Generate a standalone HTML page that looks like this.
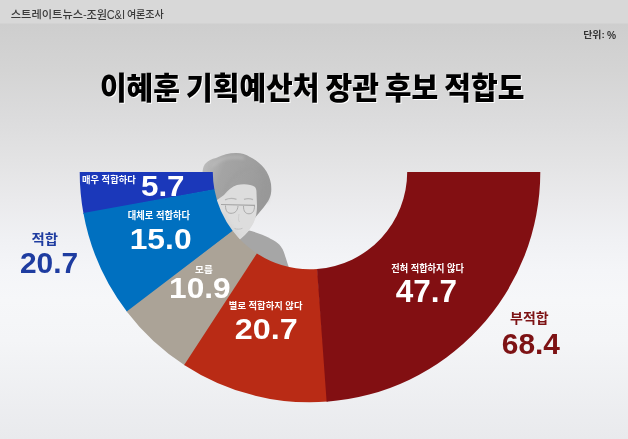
<!DOCTYPE html>
<html lang="ko">
<head>
<meta charset="utf-8">
<title>이혜훈 기획예산처 장관 후보 적합도</title>
<style>
html,body{margin:0;padding:0;background:#e9e9eb;}
body{width:628px;height:439px;overflow:hidden;position:relative;font-family:"Liberation Sans","Noto Sans CJK KR",sans-serif;}
svg{display:block;position:absolute;left:0;top:0;}
text{font-family:"Liberation Sans","Noto Sans CJK KR",sans-serif;white-space:pre;}
.title{filter:drop-shadow(1.5px 1.5px 0.2px #fff);word-spacing:-2.2px;}
</style>
</head>
<body>
<svg width="628" height="439" viewBox="0 0 628 439">
<defs>
<linearGradient id="bg" gradientUnits="userSpaceOnUse" x1="0" y1="24" x2="0" y2="439">
<stop offset="0.000" stop-color="#cecece"/>
<stop offset="0.111" stop-color="#d4d4d4"/>
<stop offset="0.231" stop-color="#dcdcdd"/>
<stop offset="0.328" stop-color="#e3e3e4"/>
<stop offset="0.424" stop-color="#eaeaec"/>
<stop offset="0.520" stop-color="#f0f1f4"/>
<stop offset="0.593" stop-color="#f4f5f8"/>
<stop offset="0.665" stop-color="#f6f7f9"/>
<stop offset="0.761" stop-color="#f4f5f7"/>
<stop offset="1.000" stop-color="#e9eaed"/>
</linearGradient>
<filter id="b1" x="-20%" y="-20%" width="140%" height="140%"><feGaussianBlur stdDeviation="0.7"/></filter>
<filter id="b2" x="-20%" y="-20%" width="140%" height="140%"><feGaussianBlur stdDeviation="1.6"/></filter>
<linearGradient id="hair" gradientUnits="userSpaceOnUse" x1="204" y1="160" x2="270" y2="185">
<stop offset="0" stop-color="#bebebe"/>
<stop offset="0.3" stop-color="#a4a4a4"/>
<stop offset="0.7" stop-color="#9e9e9e"/>
<stop offset="1" stop-color="#989898"/>
</linearGradient>
</defs>
<rect x="0" y="23" width="628" height="416" fill="url(#bg)"/>
<rect x="0" y="0" width="628" height="23.5" fill="#d8d8d8"/>

<g id="photo">
<g filter="url(#b1)">
<path d="M202.5 176C202.5 170 203 167 205 164C208 160.500 212 159 216 158C222 155 230 153 236.300 153.100C241 153 246 154.500 250 157C256 160 261 164 264 168C268 173 270 178 271 184C271.500 189 271.500 193 270 197C268 202 264 207.500 256 216.500L240 238L214 200Z" fill="url(#hair)"/>
<path d="M249 230.500C256 232 266 236 273 240C280 244 282.500 248 284.500 254L289 268L244 268L240 238.500Z" fill="#a6a6a6"/>
<path d="M217 200L224 195C228 190 232 186.500 237 185C243 183.800 251 184 255 187C256.500 189 256.500 191 256.500 193L257 206C257 212 256 217 254 222C250 230 245 235.500 240.500 239C235 236 228 229 224 221C219 212 216 206 217 200Z" fill="#dddddd"/>
</g>
<g filter="url(#b2)" opacity="0.5">
<path d="M212 166C220 158 232 156 244 158" stroke="#c2c2c2" stroke-width="3" fill="none"/>
<path d="M259 168C265 176 268 188 266 202" stroke="#989898" stroke-width="4" fill="none"/>
<path d="M224 192C230 178 240 170 252 168" stroke="#9c9c9c" stroke-width="3" fill="none"/>
<path d="M224 212C226 222 232 230 240 236" stroke="#d0d0d0" stroke-width="4" fill="none"/>
</g>
<g fill="none" stroke="#8c8c8c" stroke-width="0.9" opacity="0.7" filter="url(#b1)">
<path d="M221 204.500L255 205.400" stroke-width="1.2"/>
<path d="M225.500 205.500C225.500 211 227.500 213.300 231 213.300C235 213.300 237.500 211 238 206"/>
<path d="M243.500 206C243.500 211.500 245.500 213.800 249 213.800C252.500 213.800 254.500 211 254.500 206"/>
<path d="M225 199.800C229 198 233 198 236.500 199.300" stroke="#a8a8a8" stroke-width="1.3"/>
<path d="M244 199.300C247 198.200 250 198.300 253 199.600" stroke="#a8a8a8" stroke-width="1.3"/>
<path d="M234.500 228.500C237 229.400 240 229.400 242.500 228.300" stroke="#b0b0b0"/>
<path d="M239 214C238.500 218 238 220 239.500 222" stroke="#c4c4c4"/>
</g>
</g>


<g id="chart">
<path d="M79.70 172.00A230.3 230.3 0 0 0 83.56 214.01L214.43 189.73A97.2 97.2 0 0 1 212.80 172.00Z" fill="#1b38ba"/>
<path d="M83.38 213.02A230.3 230.3 0 0 0 127.32 312.23L232.90 231.19A97.2 97.2 0 0 1 214.35 189.31Z" fill="#0070c0"/>
<path d="M126.71 311.43A230.3 230.3 0 0 0 185.01 365.43L257.25 253.64A97.2 97.2 0 0 1 232.64 230.85Z" fill="#aba397"/>
<path d="M184.17 364.88A230.3 230.3 0 0 0 327.63 401.62L317.44 268.91A97.2 97.2 0 0 1 256.89 253.41Z" fill="#b92b15"/>
<path d="M326.63 401.70A230.3 230.3 0 0 0 540.30 172.00L407.20 172.00A97.2 97.2 0 0 1 317.02 268.95Z" fill="#820f12"/>
</g>

<g id="labels">
<text font-weight="500" fill="#3a3a3a"><tspan x="10.79" y="18.43" font-size="10.75" textLength="75.99" lengthAdjust="spacingAndGlyphs">스트레이트뉴스-</tspan><tspan x="86.54" y="18.62" font-size="11.11" textLength="20.69" lengthAdjust="spacingAndGlyphs">조원</tspan><tspan x="106.65" y="19.07" font-size="12.54" textLength="21.48" lengthAdjust="spacingAndGlyphs">C&amp;I </tspan><tspan x="126.90" y="18.43" font-size="10.75" textLength="36.90" lengthAdjust="spacingAndGlyphs">여론조사</tspan></text>
<text font-weight="700" fill="#333"><tspan x="583.20" y="38.09" font-size="9.03" textLength="24.39" lengthAdjust="spacingAndGlyphs">단위: </tspan><tspan x="606.99" y="38.78" font-size="11.71" textLength="9.11" lengthAdjust="spacingAndGlyphs">%</tspan></text>
<text class="title" x="99.89" y="99.27" font-size="30.32" textLength="424.50" lengthAdjust="spacingAndGlyphs" font-weight="900" fill="#000">이혜훈 기획예산처 장관 후보 적합도</text>
<text x="81.95" y="182.97" font-size="9.26" textLength="53.82" lengthAdjust="spacingAndGlyphs" font-weight="700" fill="#fff">매우 적합하다</text>
<text x="140.96" y="196.40" font-size="30.00" textLength="43.60" lengthAdjust="spacingAndGlyphs" font-weight="700" fill="#fff">5.7</text>
<text x="127.85" y="218.73" font-size="9.68" textLength="62.11" lengthAdjust="spacingAndGlyphs" font-weight="700" fill="#fff">대체로 적합하다</text>
<text x="129.69" y="248.70" font-size="29.86" textLength="61.88" lengthAdjust="spacingAndGlyphs" font-weight="700" fill="#fff">15.0</text>
<text x="195.12" y="273.44" font-size="9.56" textLength="17.56" lengthAdjust="spacingAndGlyphs" font-weight="700" fill="#fff">모름</text>
<text x="169.10" y="298.41" font-size="29.44" textLength="61.55" lengthAdjust="spacingAndGlyphs" font-weight="700" fill="#fff">10.9</text>
<text x="228.86" y="309.45" font-size="9.47" textLength="73.58" lengthAdjust="spacingAndGlyphs" font-weight="700" fill="#fff">별로 적합하지 않다</text>
<text x="234.83" y="339.21" font-size="29.30" textLength="62.87" lengthAdjust="spacingAndGlyphs" font-weight="700" fill="#fff">20.7</text>
<text x="391.23" y="272.10" font-size="10.00" textLength="72.81" lengthAdjust="spacingAndGlyphs" font-weight="700" fill="#fff">전혀 적합하지 않다</text>
<text x="395.77" y="302.10" font-size="31.01" textLength="61.29" lengthAdjust="spacingAndGlyphs" font-weight="700" fill="#fff">47.7</text>
<text x="31.62" y="243.88" font-size="13.51" textLength="26.51" lengthAdjust="spacingAndGlyphs" font-weight="700" fill="#1e3ca0">적합</text>
<text x="19.90" y="273.10" font-size="30.42" textLength="58.18" lengthAdjust="spacingAndGlyphs" font-weight="700" fill="#1e3ca0">20.7</text>
<text x="510.14" y="322.97" font-size="13.62" textLength="38.58" lengthAdjust="spacingAndGlyphs" font-weight="700" fill="#7d1214">부적합</text>
<text x="501.80" y="353.71" font-size="29.44" textLength="58.19" lengthAdjust="spacingAndGlyphs" font-weight="700" fill="#7d1214">68.4</text>
</g>
</svg>
</body>
</html>
